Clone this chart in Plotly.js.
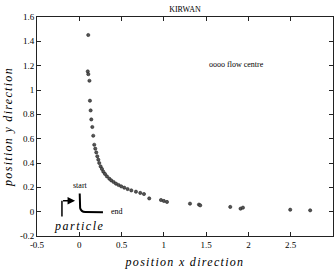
<!DOCTYPE html>
<html><head><meta charset="utf-8">
<script src="https://cdn.plot.ly/plotly-3.0.1.min.js"></script>
<style>
html,body{margin:0;padding:0;background:#fff}
.xtitle,.ytitle{letter-spacing:1.3px}
.annotation[data-index="3"] text{letter-spacing:1.5px}
</style>
</head><body>
<div id="chart" style="width:335px;height:270px"></div>
<script>
var xPos = [0.106,0.10,0.107,0.12,0.126,0.134,0.142,0.154,0.165,0.177,0.189,0.201,0.213,0.225,0.236,0.252,0.268,0.284,0.304,0.327,0.355,0.378,0.406,0.434,0.465,0.496,0.532,0.571,0.615,0.67,0.721,0.765,0.827,0.966,1.0,1.037,1.309,1.415,1.43,1.785,1.907,1.935,2.494,2.73];
var yPos = [1.452,1.153,1.13,1.076,0.912,0.832,0.758,0.696,0.624,0.55,0.518,0.487,0.455,0.427,0.40,0.372,0.351,0.329,0.31,0.29,0.271,0.257,0.244,0.23,0.219,0.208,0.197,0.186,0.175,0.164,0.154,0.145,0.109,0.096,0.088,0.08,0.066,0.058,0.052,0.039,0.025,0.033,0.016,0.011];
var xTicks = [-0.5,0,0.5,1,1.5,2,2.5,3];
var xTickText = ['-0.5','0','0.5','1','1.5','2','2.5','3'];
var yTicks = [-0.2,0,0.2,0.4,0.6,0.8,1,1.2,1.4,1.6];
var yTickText = ['-0.2','0','0.2','0.4','0.6','0.8','1','1.2','1.4','1.6'];

var serif = 'Liberation Serif, Times New Roman, serif';
var trace = {
  x: xPos, y: yPos, mode: 'markers', type: 'scatter',
  marker: {symbol: 'circle', size: 3.2, color: '#555', line: {color: '#222', width: 0.6}},
  hoverinfo: 'none'
};
var axisCommon = {
  showline: true, linecolor: '#222', linewidth: 1, mirror: 'ticks',
  ticks: 'inside', ticklen: 4, tickcolor: '#222', showgrid: false, zeroline: false,
  tickfont: {family: serif, size: 9, color: '#000'}
};
var layout = {
  width: 335, height: 270,
  margin: {l: 37, r: 2, t: 17, b: 34},
  paper_bgcolor: '#fff', plot_bgcolor: '#fff',
  showlegend: false,
  title: {text: 'KIRWAN', font: {family: serif, size: 8, color: '#000'}, x: 0.552, xanchor: 'center', y: 0.965, yanchor: 'middle'},
  xaxis: Object.assign({}, axisCommon, {
    range: [-0.5, 3], tickvals: xTicks, ticktext: xTickText,
    title: {text: 'position x direction', font: {family: serif, size: 12, style: 'italic', color: '#000'}, standoff: 8}
  }),
  yaxis: Object.assign({}, axisCommon, {
    range: [-0.2, 1.6], tickvals: yTicks, ticktext: yTickText,
    title: {text: 'position y direction', font: {family: serif, size: 12, style: 'italic', color: '#000'}, standoff: 4}
  }),
  shapes: [
    {type: 'path', xref: 'x', yref: 'y', path: 'M 0.005,0.15 L 0.01,0.03 Q 0.02,-0.002 0.07,-0.003 L 0.28,-0.005', line: {color: '#000', width: 2}},
    {type: 'line', xref: 'x', yref: 'y', x0: -0.205, y0: -0.04, x1: -0.205, y1: 0.09, line: {color: '#000', width: 1.5}}
  ],
  annotations: [
    {x: 1.86, y: 1.21, xref: 'x', yref: 'y', text: 'oooo flow centre', showarrow: false, font: {family: serif, size: 8, color: '#000'}},
    {x: 0.01, y: 0.215, xref: 'x', yref: 'y', text: 'start', showarrow: false, font: {family: serif, size: 8, color: '#000'}},
    {x: 0.45, y: 0.0, xref: 'x', yref: 'y', text: 'end', showarrow: false, font: {family: serif, size: 8, color: '#000'}},
    {x: 0.0, y: -0.12, xref: 'x', yref: 'y', text: 'particle', showarrow: false, font: {family: serif, size: 12, style: 'italic', color: '#000'}},
    {x: -0.05, y: 0.09, xref: 'x', yref: 'y', ax: -0.21, ay: 0.09, axref: 'x', ayref: 'y', text: '', showarrow: true, arrowhead: 2, arrowsize: 1, arrowwidth: 1.5, arrowcolor: '#000'}
  ]
};
Plotly.newPlot('chart', [trace], layout, {displayModeBar: false, staticPlot: true});
</script>
</body></html>
